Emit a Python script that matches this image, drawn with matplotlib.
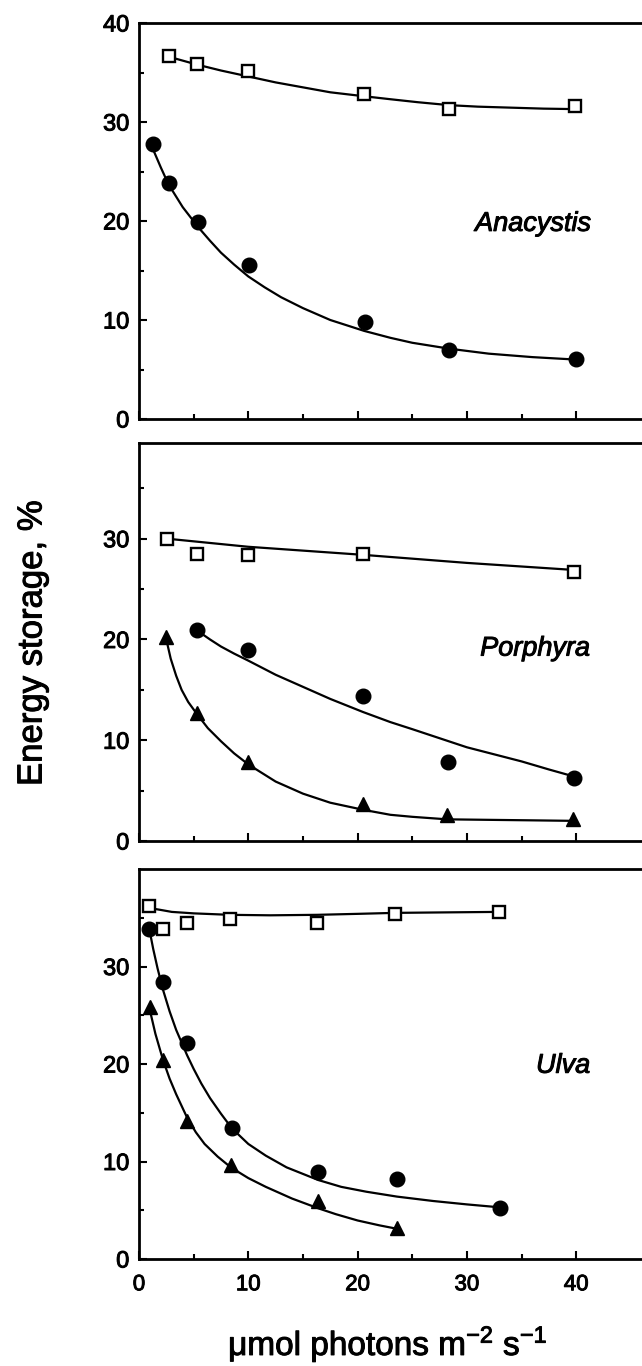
import matplotlib
matplotlib.use('Agg')
import matplotlib.pyplot as plt
import matplotlib.patheffects as pe
from matplotlib.ticker import FixedLocator

plt.rcParams['font.family'] = ['Liberation Sans', 'DejaVu Sans']
plt.rcParams['mathtext.fontset'] = 'custom'
plt.rcParams['mathtext.rm'] = 'Liberation Sans'
plt.rcParams['mathtext.it'] = 'Liberation Sans:italic'
plt.rcParams['mathtext.default'] = 'rm'

# Anacystis
ana_sq_x = [2.7, 5.3, 10.0, 20.6, 28.4, 39.9]
ana_sq_y = [36.7, 35.9, 35.2, 32.8, 31.3, 31.6]
ana_sq_fit_x = [2.7, 4, 5.3, 7.5, 10, 12.5, 15, 17.5, 20.6, 23, 25.5, 28.4, 31, 34, 37, 40]
ana_sq_fit_y = [36.6, 36.2, 35.8, 35.2, 34.6, 34.0, 33.5, 33.0, 32.6, 32.3, 32.0, 31.7, 31.55, 31.45, 31.35, 31.3]
ana_ci_x = [1.3, 2.7, 5.4, 10.1, 20.7, 28.4, 40]
ana_ci_y = [27.8, 23.8, 19.9, 15.6, 9.8, 7.0, 6.1]
ana_ci_fit_x = [1.3, 2.0, 2.7, 4.0, 5.4, 6.5, 7.5, 8.7, 10, 11.5, 13, 15, 17.5, 20.6, 23, 25, 28.4, 32, 36, 40]
ana_ci_fit_y = [27.2, 25.4, 23.7, 21.4, 19.4, 18.0, 16.8, 15.6, 14.4, 13.3, 12.3, 11.2, 10.0, 8.9, 8.2, 7.7, 7.1, 6.6, 6.25, 6.0]

# Porphyra
por_sq_x = [2.6, 5.3, 10.0, 20.5, 39.8]
por_sq_y = [30.0, 28.5, 28.4, 28.5, 26.7]
por_sq_fit_x = [2.6, 10, 20.5, 30, 39.8]
por_sq_fit_y = [30.0, 29.2, 28.4, 27.6, 26.9]
por_ci_x = [5.3, 10.0, 20.5, 28.3, 39.8]
por_ci_y = [20.9, 19.0, 14.4, 7.8, 6.3]
por_ci_fit_x = [5.3, 6.5, 7.5, 8.7, 10, 12.5, 15, 17.5, 20.5, 23, 25, 27.5, 30, 32.5, 35, 37.5, 39.8]
por_ci_fit_y = [20.9, 20.0, 19.3, 18.6, 17.9, 16.5, 15.3, 14.1, 12.8, 11.8, 11.1, 10.2, 9.3, 8.6, 7.9, 7.1, 6.4]
por_tr_x = [2.5, 5.3, 10, 20.5, 28.2, 39.7]
por_tr_y = [20.2, 12.7, 7.8, 3.7, 2.6, 2.2]
por_tr_fit_x = [2.5, 2.9, 3.4, 3.9, 4.5, 5.3, 6.3, 7.5, 8.7, 10, 12.5, 15, 17.5, 20.5, 23, 25, 28.2, 32, 36, 39.7]
por_tr_fit_y = [20.0, 18.1, 16.4, 15.0, 13.8, 12.6, 11.2, 9.9, 8.7, 7.6, 5.9, 4.7, 3.8, 3.1, 2.6, 2.4, 2.15, 2.1, 2.05, 2.0]

# Ulva
ulv_sq_x = [0.95, 2.2, 4.4, 8.3, 16.3, 23.4, 32.9]
ulv_sq_y = [36.2, 33.8, 34.5, 34.9, 34.5, 35.4, 35.6]
ulv_sq_fit_x = [0.95, 2, 3, 5, 8.3, 12, 16.3, 20, 23.4, 28, 32.9]
ulv_sq_fit_y = [36.0, 35.8, 35.6, 35.45, 35.3, 35.25, 35.3, 35.4, 35.5, 35.55, 35.6]
ulv_ci_x = [0.95, 2.2, 4.4, 8.5, 16.4, 23.6, 33.0]
ulv_ci_y = [33.8, 28.4, 22.2, 13.4, 8.9, 8.2, 5.2]
ulv_ci_fit_x = [0.95, 1.3, 1.7, 2.2, 2.8, 3.4, 4.4, 5.0, 5.7, 6.5, 7.5, 8.5, 10, 11.6, 13.5, 16.4, 18.5, 20.8, 23.6, 26.9, 30, 33.0]
ulv_ci_fit_y = [33.8, 31.8, 29.8, 27.6, 25.4, 23.5, 20.9, 19.5, 18.0, 16.5, 14.9, 13.4, 11.8, 10.6, 9.4, 8.1, 7.4, 6.9, 6.4, 5.95, 5.6, 5.3]
ulv_tr_x = [1.0, 2.2, 4.4, 8.4, 16.4, 23.6]
ulv_tr_y = [25.8, 20.4, 14.2, 9.6, 5.9, 3.2]
ulv_tr_fit_x = [1.0, 1.5, 2.2, 2.8, 3.4, 4.4, 5.2, 6.0, 7.2, 8.4, 10, 11.6, 14, 16.4, 18, 20, 22, 23.6]
ulv_tr_fit_y = [25.5, 23.1, 20.4, 18.5, 16.9, 14.5, 13.0, 11.8, 10.5, 9.4, 8.3, 7.4, 6.2, 5.2, 4.6, 3.95, 3.45, 3.1]

x_ticks = [0, 10, 20, 30, 40]
x_minor = [5, 15, 25, 35]
y_minor = [5, 15, 25, 35]

fig = plt.figure(figsize=(6.42, 13.66), dpi=100)

W, H = 642.0, 1366.0
x0 = 139
px_per_unit = 10.93
xmax = 47
thick = [pe.withStroke(linewidth=0.7, foreground='black')]


def make_ax(top_px, bottom_px, ymax):
    ax = fig.add_axes([x0 / W, 1 - bottom_px / H, xmax * px_per_unit / W, (bottom_px - top_px) / H])
    ax.set_xlim(0, xmax)
    ax.set_ylim(0, ymax)
    for s in ax.spines.values():
        s.set_linewidth(2)
    ax.xaxis.set_major_locator(FixedLocator(x_ticks))
    ax.xaxis.set_minor_locator(FixedLocator(x_minor))
    ax.yaxis.set_minor_locator(FixedLocator(y_minor))
    ax.tick_params(which='major', direction='in', length=5.5, width=1.5)
    ax.tick_params(which='minor', direction='in', length=3.5, width=1.5)
    ax.tick_params(axis='y', labelsize=17, pad=7)
    ax.tick_params(axis='x', labelsize=16, pad=11)
    ax.tick_params(top=False, right=False, which='both')
    return ax


def draw(ax, fx, fy, px, py, marker):
    ax.plot(fx, fy, 'k-', lw=1.6, zorder=2)
    if marker == 's':
        ax.plot(px, py, 's', ms=8, mfc='white', mec='black', mew=1.7, zorder=3)
    else:
        ax.plot(px, py, marker, ms=10.5, color='black', zorder=3)


# top: Anacystis
ax1 = make_ax(23, 419, 40)
ax1.set_yticks([0, 10, 20, 30, 40])
ax1.tick_params(axis='x', labelbottom=False)
draw(ax1, ana_sq_fit_x, ana_sq_fit_y, ana_sq_x, ana_sq_y, 's')
draw(ax1, ana_ci_fit_x, ana_ci_fit_y, ana_ci_x, ana_ci_y, 'o')
ax1.text(41.4, 19.0, 'Anacystis', style='italic', fontsize=19.5, ha='right', va='baseline',
         path_effects=thick)

# middle: Porphyra
ax2 = make_ax(443, 841, 39.5)
ax2.set_yticks([0, 10, 20, 30])
ax2.tick_params(axis='x', labelbottom=False)
draw(ax2, por_sq_fit_x, por_sq_fit_y, por_sq_x, por_sq_y, 's')
draw(ax2, por_ci_fit_x, por_ci_fit_y, por_ci_x, por_ci_y, 'o')
draw(ax2, por_tr_fit_x, por_tr_fit_y, por_tr_x, por_tr_y, '^')
ax2.text(41.3, 18.4, 'Porphyra', style='italic', fontsize=19.5, ha='right', va='baseline',
         path_effects=thick)

# bottom: Ulva
ax3 = make_ax(869, 1259, 40)
ax3.set_yticks([0, 10, 20, 30])
draw(ax3, ulv_sq_fit_x, ulv_sq_fit_y, ulv_sq_x, ulv_sq_y, 's')
draw(ax3, ulv_ci_fit_x, ulv_ci_fit_y, ulv_ci_x, ulv_ci_y, 'o')
draw(ax3, ulv_tr_fit_x, ulv_tr_fit_y, ulv_tr_x, ulv_tr_y, '^')
ax3.text(41.3, 19.1, 'Ulva', style='italic', fontsize=19.5, ha='right', va='baseline',
         path_effects=thick)

for ax in (ax1, ax2, ax3):
    for lab in ax.get_xticklabels() + ax.get_yticklabels():
        lab.set_path_effects(thick)

fig.text(32 / W, 1 - 643 / H, 'Energy storage, %', rotation=90, fontsize=25,
         ha='center', va='center', path_effects=thick)
fig.text(388 / W, 1 - 1355 / H, r'μmol photons m$^{-2}$ s$^{-1}$', fontsize=24,
         ha='center', va='baseline', path_effects=thick)

fig.savefig('out.png', dpi=100)
